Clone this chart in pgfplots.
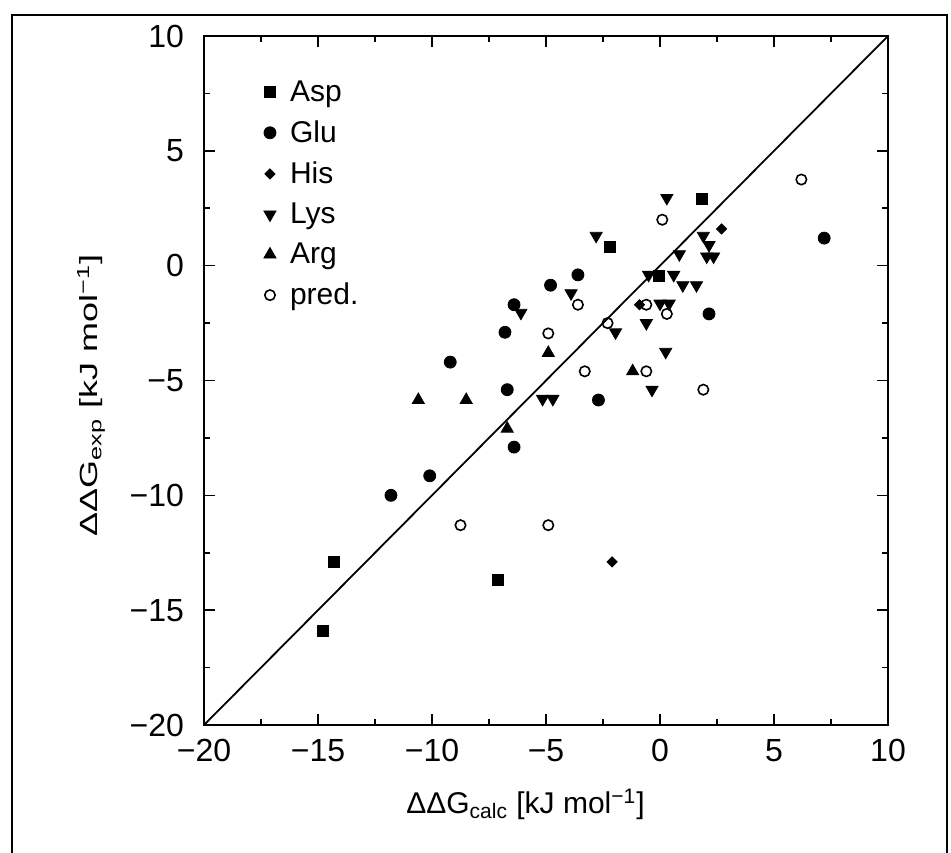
\documentclass[border=0pt]{standalone}
\usepackage{fontspec}
\setmainfont{Liberation Sans}
\usepackage{pgfplots}
\pgfplotsset{compat=1.18}

% one mark only in each legend entry
\pgfplotsset{mk/.style={only marks,
    legend image code/.code={\draw[##1] plot coordinates {(0pt,0pt)};}}}
\newcommand{\legtext}[1]{\hspace{5pt}#1}

\begin{document}
\begin{tikzpicture}
\begin{axis}[
    name=ax,
    at={(0,0)}, anchor=south west,
    scale only axis,
    width=342pt, height=344.5pt,
    xmin=-20, xmax=10, ymin=-20, ymax=10,
    xtick={-20,-15,...,10}, ytick={-20,-15,...,10},
    xticklabels={−20,−15,−10,−5,0,5,10},
    yticklabels={−20,−15,−10,−5,0,5,10},
    minor tick num=1,
    tick align=inside,
    major tick length=5.5pt, minor tick length=3pt,
    axis line style={line width=1pt},
    every tick/.style={black, line width=0.8pt},
    tick label style={font=\fontsize{16}{19}\selectfont},
    xticklabel style={yshift=-3.5pt},
    yticklabel style={xshift=-6.5pt},
    xlabel={ΔΔG\textsubscript{calc} [kJ mol\textsuperscript{−1}]},
    ylabel={ΔΔG\textsubscript{exp} [kJ mol\textsuperscript{−1}]},
    xlabel style={font=\fontsize{15}{18}\selectfont,
        at={(axis description cs:0.47,-0.115)}, anchor=center},
    ylabel style={font=\fontsize{18}{21}\selectfont, yscale=0.69,
        at={(axis description cs:-0.165,0.478)}, anchor=center},
    legend style={draw=none, fill=none, at={(axis description cs:0.087,0.942)},
        anchor=north west, font=\fontsize{15}{18}\selectfont,
        row sep=4.2pt, inner sep=0pt},
    legend cell align=left,
]
\addplot[mk, mark=square*, mark size=2.75pt] coordinates {
    (-14.3,-12.9) (-14.8,-15.9) (-7.1,-13.7) (-2.2,0.8) (-0.05,-0.45) (1.85,2.9)
};
\addlegendentry{\legtext{Asp}}
\addplot[mk, mark=*, mark size=3pt] coordinates {
    (-11.8,-10.0) (-10.1,-9.15) (-6.4,-7.9) (-6.7,-5.4) (-2.7,-5.85) (-9.2,-4.2)
    (-6.8,-2.9) (-6.4,-1.7) (-4.8,-0.85) (-3.6,-0.4) (2.15,-2.1) (7.2,1.2)
};
\addlegendentry{\legtext{Glu}}
\addplot[mk, mark=square*, mark size=1.8pt, mark options={rotate=45}] coordinates {
    (-2.1,-12.9) (-0.9,-1.7) (2.7,1.6)
};
\addlegendentry{\legtext{His}}
\addplot[mk, mark=triangle*, mark size=3.5pt, mark options={rotate=180}] coordinates {
    (-5.15,-5.8) (-4.7,-5.8) (-6.1,-2.05) (-3.9,-1.2) (-2.8,1.3) (-1.95,-2.9)
    (-0.6,-2.5) (-0.35,-5.4) (0.25,-3.75) (-0.5,-0.4) (0.6,-0.4) (1.0,-0.85)
    (1.6,-0.85) (0.85,0.5) (0.0,-1.65) (0.4,-1.65) (0.3,2.95) (1.9,1.3)
    (2.15,0.9) (2.05,0.4) (2.35,0.4)
};
\addlegendentry{\legtext{Lys}}
\addplot[mk, mark=triangle*, mark size=3.5pt] coordinates {
    (-10.6,-5.85) (-8.5,-5.85) (-6.7,-7.1) (-4.9,-3.8) (-1.2,-4.6)
};
\addlegendentry{\legtext{Arg}}
\addplot[mk, mark=o, mark size=2.6pt, mark options={line width=0.8pt}] coordinates {
    (-8.75,-11.3) (-4.9,-11.3) (-3.3,-4.6) (-0.6,-4.6) (1.9,-5.4) (-4.9,-2.95)
    (-2.3,-2.5) (-3.6,-1.7) (-0.6,-1.7) (0.3,-2.1) (0.1,2.0) (6.2,3.75)
};
\addlegendentry{\legtext{pred.}}
\addplot[black, line width=0.9pt, forget plot] coordinates {(-20,-20) (10,10)};
\end{axis}
\draw[line width=1pt] ([shift={(-96pt,-64pt)}]ax.south west) -- ++(0,419pt)
    -- ++(467.5pt,0) -- ++(0,-419pt);
\pgfresetboundingbox
\useasboundingbox ([shift={(-102pt,-63.5pt)}]ax.south west)
    rectangle ([shift={(373.5pt,362.5pt)}]ax.south west);
\end{tikzpicture}
\end{document}
